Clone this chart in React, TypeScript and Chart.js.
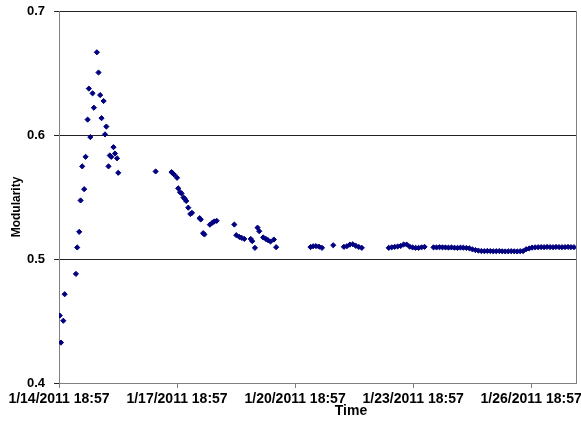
import React, { useEffect, useRef } from "react";
import { Chart, registerables } from "chart.js";

Chart.register(...registerables);

// Days elapsed since 1/14/2011 18:57
const timeDays: number[] = [
  0.018, 0.05, 0.109, 0.144, 0.43, 0.463, 0.514, 0.549, 0.59, 0.64,
  0.676, 0.727, 0.759, 0.797, 0.853, 0.886, 0.962, 1.005, 1.046, 1.081,
  1.134, 1.17, 1.203, 1.258, 1.291, 1.329, 1.385, 1.423, 1.476, 1.506,
  2.456, 2.861, 2.894, 2.929, 3.0, 3.03, 3.076, 3.114, 3.165, 3.197,
  3.233, 3.286, 3.337, 3.38, 3.575, 3.603, 3.663, 3.696, 3.835, 3.899,
  3.949, 4.008, 4.456, 4.506, 4.582, 4.646, 4.709, 4.873, 4.911, 4.98,
  5.046, 5.089, 5.19, 5.258, 5.309, 5.375, 5.461, 5.519,
  6.392, 6.456, 6.532, 6.608, 6.684, 6.97,
  7.241, 7.316, 7.392, 7.468, 7.544, 7.62, 7.696,
  8.38, 8.456, 8.532, 8.608, 8.684, 8.759, 8.835, 8.911, 8.987, 9.063, 9.139, 9.215, 9.291,
  9.519, 9.595, 9.671, 9.747, 9.823, 9.899, 9.975, 10.051, 10.127, 10.203, 10.278, 10.354,
  10.43, 10.506, 10.582, 10.658,
  10.734, 10.81, 10.886, 10.962, 11.038, 11.114, 11.19, 11.266, 11.342, 11.418, 11.494, 11.57, 11.646, 11.722, 11.797,
  11.873, 11.949,
  12.025, 12.101, 12.177, 12.253, 12.329, 12.405, 12.481, 12.557, 12.633, 12.709, 12.785, 12.861, 12.937, 13.013, 13.089,
];

const modularity: number[] = [
  0.4544, 0.4326, 0.4502, 0.4716, 0.488, 0.5093, 0.5219, 0.5472, 0.5747, 0.5563,
  0.5824, 0.6124, 0.6374, 0.5983, 0.6336, 0.622, 0.6667, 0.6504, 0.6322, 0.6136,
  0.6274, 0.6005, 0.6068, 0.5747, 0.5835, 0.5824, 0.5902, 0.5851, 0.5812, 0.5695,
  0.5706, 0.5701, 0.569, 0.568, 0.5655, 0.557, 0.5539, 0.5529, 0.5496, 0.5485,
  0.5468, 0.5414, 0.5363, 0.5372, 0.5329, 0.5319, 0.5208, 0.5198, 0.5277, 0.5293,
  0.5303, 0.5308, 0.5278, 0.5192, 0.5178, 0.517, 0.5162, 0.5162, 0.5144, 0.509,
  0.5253, 0.5224, 0.5174, 0.5162, 0.5152, 0.5141, 0.5157, 0.5095,
  0.5096, 0.5103, 0.5104, 0.5099, 0.509, 0.5111,
  0.5098, 0.5103, 0.5116, 0.5119, 0.5106, 0.5097, 0.509,
  0.509, 0.5094, 0.5098, 0.5101, 0.5105, 0.5117, 0.5117, 0.51, 0.5093, 0.509, 0.509, 0.5094, 0.5098,
  0.5094, 0.5093, 0.5095, 0.5094, 0.5093, 0.5092, 0.5093, 0.5091, 0.509, 0.5092, 0.5091, 0.5089,
  0.5086, 0.5078, 0.5072, 0.5068,
  0.5064, 0.5063, 0.5065, 0.5064, 0.5062, 0.5063, 0.5064, 0.5062, 0.5061, 0.5062, 0.5063, 0.5062, 0.5061, 0.5063, 0.5064,
  0.5079, 0.5085,
  0.5092, 0.5094, 0.5095, 0.5096, 0.5095, 0.5097, 0.5096, 0.5095, 0.5097, 0.5096, 0.5095, 0.5096, 0.5097, 0.5096, 0.5095,
];

const xTickDays: number[] = [0, 3, 6, 9, 12];
const xTickLabels: string[] = [
  "1/14/2011 18:57",
  "1/17/2011 18:57",
  "1/20/2011 18:57",
  "1/23/2011 18:57",
  "1/26/2011 18:57",
];
const yTicks: number[] = [0.4, 0.5, 0.6, 0.7];
const xMax = 13.14;
const xTitle = "Time";
const yTitle = "Modularity";

const FONT = "'Liberation Sans', Arial, sans-serif";

export default function App() {
  const ref = useRef<HTMLCanvasElement | null>(null);

  useEffect(() => {
    document.body.style.margin = "0";
    if (!ref.current) return;

    const axisTitles = {
      id: "axisTitles",
      afterDraw(chart: any) {
        const { ctx, chartArea } = chart;
        ctx.save();
        // right border of plot area
        ctx.strokeStyle = "#808080";
        ctx.lineWidth = 1;
        ctx.beginPath();
        ctx.moveTo(Math.round(chartArea.right) + 0.5, chartArea.top);
        ctx.lineTo(Math.round(chartArea.right) + 0.5, chartArea.bottom);
        ctx.stroke();

        ctx.fillStyle = "#000";
        ctx.textAlign = "center";
        ctx.textBaseline = "middle";
        ctx.font = `bold 14px ${FONT}`;
        ctx.fillText(xTitle, 351, 411);

        ctx.translate(17, 207);
        ctx.rotate(-Math.PI / 2);
        ctx.font = `bold 12px ${FONT}`;
        ctx.fillText(yTitle, 0, 0);
        ctx.restore();
      },
    };

    const chart = new Chart(ref.current, {
      type: "scatter",
      data: {
        datasets: [
          {
            label: yTitle,
            data: timeDays.map((d, i) => ({ x: d, y: modularity[i] })),
            pointStyle: "rectRot",
            pointRadius: 2.6,
            pointBorderWidth: 1,
            backgroundColor: "#000080",
            borderColor: "#000080",
          },
        ],
      },
      options: {
        animation: false,
        responsive: false,
        devicePixelRatio: 1,
        layout: { padding: { top: 11, right: 3, left: 0, bottom: 0 } },
        plugins: {
          legend: { display: false },
          tooltip: { enabled: false },
        },
        scales: {
          x: {
            type: "linear",
            min: 0,
            max: xMax,
            afterBuildTicks: (scale: any) => {
              scale.ticks = xTickDays.map((v) => ({ value: v }));
            },
            afterFit: (scale: any) => {
              scale.height = 39;
              scale.paddingLeft = 0;
              scale.paddingRight = 0;
            },
            ticks: {
              autoSkip: false,
              maxRotation: 0,
              minRotation: 0,
              padding: 3,
              color: "#000",
              font: { family: FONT, size: 14, weight: "bold" },
              callback: (v: any) => {
                const i = xTickDays.indexOf(Number(v));
                return i >= 0 ? xTickLabels[i] : "";
              },
            },
            grid: {
              display: true,
              drawOnChartArea: false,
              drawTicks: true,
              tickLength: 5,
              color: "#808080",
            },
            border: { color: "#808080", width: 1 },
          },
          y: {
            type: "linear",
            min: 0.4,
            max: 0.7,
            afterBuildTicks: (scale: any) => {
              scale.ticks = yTicks.map((v) => ({ value: v }));
            },
            afterFit: (scale: any) => {
              scale.width = 59;
              scale.paddingTop = 0;
              scale.paddingBottom = 0;
            },
            ticks: {
              padding: 9,
              color: "#000",
              font: { family: FONT, size: 13, weight: "bold" },
              callback: (v: any) => Number(v).toFixed(1),
            },
            grid: {
              color: "#222",
              lineWidth: 1,
              drawTicks: true,
              tickLength: 5,
            },
            border: { color: "#808080", width: 1 },
          },
        },
      },
      plugins: [axisTitles],
    });

    return () => chart.destroy();
  }, []);

  return (
    <div style={{ width: 581, height: 422 }}>
      <canvas ref={ref} width={581} height={422} style={{ display: "block", width: 581, height: 422 }} />
    </div>
  );
}
